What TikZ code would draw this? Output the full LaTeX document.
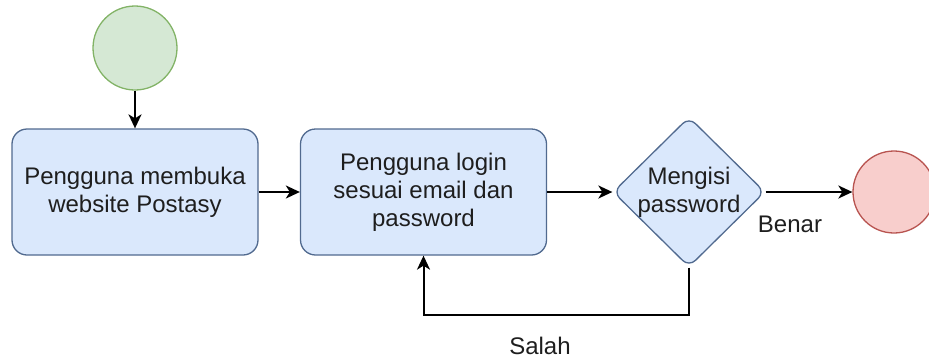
\documentclass[tikz,border=0pt]{standalone}
\usepackage{fontspec}
\setmainfont{Liberation Sans}
\usetikzlibrary{arrows.meta,shapes.geometric}

\definecolor{startfill}{HTML}{D5E8D4}
\definecolor{startline}{HTML}{82B366}
\definecolor{stepfill}{HTML}{DAE8FC}
\definecolor{stepline}{HTML}{6C8EBF}
\definecolor{endfill}{HTML}{F8CECC}
\definecolor{endline}{HTML}{B85450}
\definecolor{ink}{HTML}{1E1E1E}

\tikzset{
  txt/.style={font=\fontsize{24}{28}\selectfont, text=ink, align=center},
  startnode/.style={circle, draw=startline, fill=startfill, line width=1.3pt,
    minimum size=84pt, inner sep=0pt},
  endnode/.style={circle, draw=endline, fill=endfill, line width=1.3pt,
    minimum size=82pt, inner sep=0pt},
  stepbox/.style={txt, rectangle, rounded corners=15pt, draw=stepline!75!black,
    fill=stepfill, line width=1.3pt, minimum width=246pt, minimum height=126pt,
    inner sep=0pt},
  choice/.style={diamond, rounded corners=9pt, draw=stepline!75!black,
    fill=stepfill, line width=1.3pt, minimum width=152pt, minimum height=150pt,
    inner sep=0pt},
  flow/.style={line width=2pt, black, -{Stealth[length=14pt,width=13pt,inset=4pt]}},
}

\begin{document}
\begin{tikzpicture}[x=1pt, y=-1pt]
  \useasboundingbox (0,0) rectangle (929,362);

  % nodes
  \node[startnode] (start) at (135,48) {};
  \node[stepbox] (open) at (135,192) {Pengguna membuka\\website Postasy};
  \node[stepbox] (login) at (423.5,192) {Pengguna login\\sesuai email dan\\password};
  \node[choice] (check) at (689,192) {};
  \node[txt] at (check) {Mengisi\\password};
  \node[endnode] (stop) at (894,192) {};

  % connectors
  \draw[flow] (start) -- (open);
  \draw[flow] (open) -- (login);
  \draw[flow] (login) -- (check);
  \draw[flow] (check) -- (stop);
  \coordinate (back) at (689,315);
  \draw[flow] (check.south) -- (back) -| (login.south);

  % branch labels
  \node[txt] (yes) at (790,224) {Benar};
  \node[txt] (no) at (540,346) {Salah};
\end{tikzpicture}
\end{document}
